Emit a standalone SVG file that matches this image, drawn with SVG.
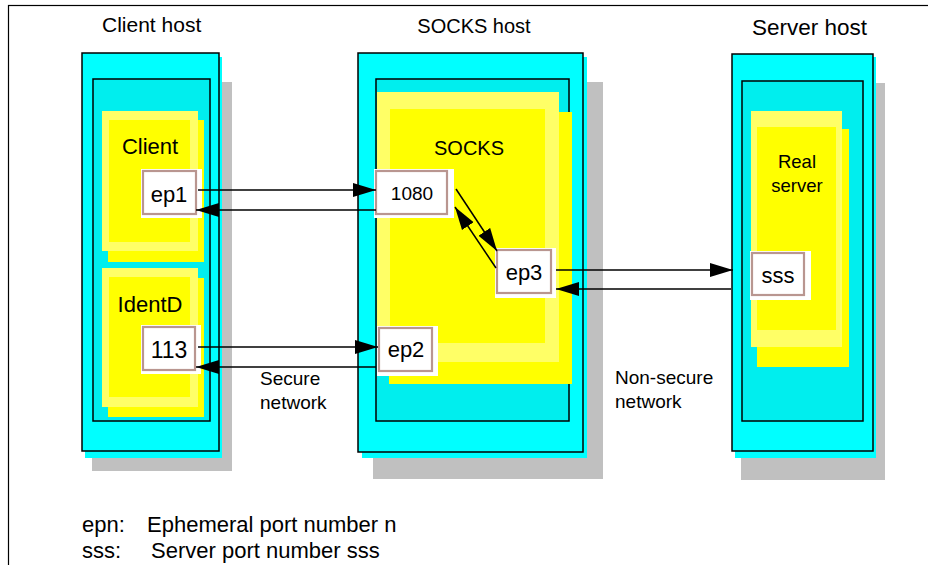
<svg xmlns="http://www.w3.org/2000/svg" width="928" height="565" viewBox="0 0 928 565">
<style>
text{font-family:"Liberation Sans",Arial,sans-serif;fill:#000}
.shadow{fill:#c0c0c0}
.cy2{fill:#00ffff}
.outer{fill:#00ffff;stroke:#000;stroke-width:1.5}
.inner{fill:#00eeee;stroke:#000;stroke-width:1.5}
.yb{fill:#ffff00}
.yp{fill:#ffff66}
.pw{fill:#ffffff}
.pb{fill:#ffffff;stroke:#b99690;stroke-width:2.2}
.ln{stroke:#000;stroke-width:1.5;fill:none;marker-end:url(#ah)}
</style>
<defs>
<marker id="ah" markerUnits="userSpaceOnUse" markerWidth="24" markerHeight="16" viewBox="0 0 24 16" refX="23" refY="8" orient="auto">
<path d="M0,1 L23,8 L0,15 z" fill="#000"/>
</marker>
</defs>
<rect x="0" y="0" width="928" height="565" fill="#fff"/>
<rect x="8.5" y="5.5" width="940" height="580" fill="none" stroke="#000" stroke-width="1.2"/>

<g id="client-host">
<rect class="shadow" x="92" y="82" width="140" height="389"/>
<rect class="cy2" x="85" y="57" width="137" height="401"/>
<rect class="outer" x="82" y="53" width="137" height="398"/>
<rect class="inner" x="93" y="79" width="117" height="342"/>
<text x="102" y="32" font-size="21">Client host</text>
</g>

<g id="client">
<rect class="yb" x="108" y="120" width="96" height="142"/>
<rect class="yp" x="102" y="111" width="96" height="140"/>
<rect class="yb" x="109" y="120" width="81" height="122"/>
<text x="150" y="154" font-size="22" text-anchor="middle">Client</text>
</g>

<g id="identd">
<rect class="yb" x="108" y="278" width="96" height="139"/>
<rect class="yp" x="102" y="268" width="96" height="139"/>
<rect class="yb" x="109" y="277" width="81" height="120"/>
<text x="150" y="312" font-size="22" text-anchor="middle">IdentD</text>
</g>

<g id="ep1">
<rect class="pw" x="141" y="169" width="61" height="49"/>
<rect class="pb" x="143" y="171" width="53" height="43"/>
<text x="169" y="202" font-size="22" text-anchor="middle">ep1</text>
</g>

<g id="p113">
<rect class="pw" x="141" y="325" width="60" height="49"/>
<rect class="pb" x="143" y="327" width="52" height="43"/>
<text x="169" y="358" font-size="23" text-anchor="middle">113</text>
</g>

<g id="socks-host">
<rect class="shadow" x="373" y="82" width="230" height="397"/>
<rect class="cy2" x="362" y="57" width="225" height="401"/>
<rect class="outer" x="358" y="53" width="225" height="399"/>
<rect class="inner" x="376" y="79" width="193" height="342"/>
<text x="474" y="33" font-size="20" text-anchor="middle">SOCKS host</text>
</g>

<g id="socks">
<rect class="yb" x="389" y="112" width="183" height="272"/>
<rect class="yp" x="377" y="92" width="182" height="270"/>
<rect class="yb" x="390" y="109" width="155" height="234"/>
<text x="469" y="155" font-size="20" text-anchor="middle">SOCKS</text>
</g>

<g id="p1080">
<rect class="pw" x="374" y="169" width="80" height="49"/>
<rect class="pb" x="376" y="171" width="71" height="43"/>
<text x="412" y="200" font-size="19" text-anchor="middle">1080</text>
</g>

<g id="ep3">
<rect class="pw" x="495" y="248" width="61" height="50"/>
<rect class="pb" x="497" y="250" width="54" height="43"/>
<text x="524" y="280" font-size="22" text-anchor="middle">ep3</text>
</g>

<g id="ep2">
<rect class="pw" x="377" y="326" width="61" height="50"/>
<rect class="pb" x="379" y="328" width="53" height="43"/>
<text x="406" y="357" font-size="22" text-anchor="middle">ep2</text>
</g>

<g id="server-host">
<rect class="shadow" x="741" y="83" width="144" height="397"/>
<rect class="cy2" x="735" y="57" width="141" height="401"/>
<rect class="outer" x="732" y="54" width="141" height="397"/>
<rect class="inner" x="742" y="81" width="121" height="340"/>
<text x="752" y="35" font-size="22.5">Server host</text>
</g>

<g id="real-server">
<rect class="yb" x="757" y="129" width="92" height="238"/>
<rect class="yp" x="751" y="111" width="91" height="236"/>
<rect class="yb" x="757" y="127" width="79" height="203"/>
<text x="797" y="168" font-size="18.5" text-anchor="middle">Real</text>
<text x="797" y="192" font-size="18.5" text-anchor="middle">server</text>
</g>

<g id="sss">
<rect class="pw" x="750" y="251" width="61" height="49"/>
<rect class="pb" x="752" y="253" width="52" height="42"/>
<text x="778" y="283" font-size="22" text-anchor="middle">sss</text>
</g>

<g id="connectors">
<line class="ln" x1="198" y1="190" x2="376" y2="190"/>
<line class="ln" x1="376" y1="210" x2="196" y2="210"/>
<line class="ln" x1="198" y1="347" x2="378" y2="347"/>
<line class="ln" x1="376" y1="367" x2="196" y2="367"/>
<line class="ln" x1="456" y1="189" x2="497" y2="251"/>
<line class="ln" x1="496" y1="268" x2="455" y2="207"/>
<line class="ln" x1="556" y1="270" x2="733" y2="270"/>
<line class="ln" x1="731" y1="289" x2="556" y2="289"/>
</g>

<g id="labels">
<text x="260" y="385" font-size="19">Secure</text>
<text x="260" y="409" font-size="19">network</text>
<text x="615" y="384" font-size="19">Non-secure</text>
<text x="615" y="408" font-size="19">network</text>
<text x="82" y="532" font-size="22">epn:</text>
<text x="147" y="532" font-size="22">Ephemeral port number n</text>
<text x="82" y="558" font-size="22">sss:</text>
<text x="151" y="558" font-size="22">Server port number sss</text>
</g>
</svg>
